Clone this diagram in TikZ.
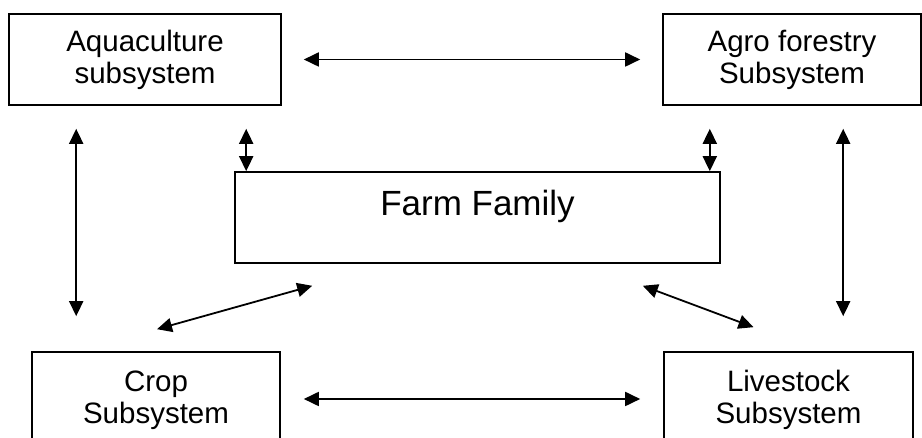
\documentclass[tikz,border=0pt]{standalone}
\usepackage{fontspec}
\setmainfont{Liberation Sans}
\usetikzlibrary{arrows.meta}

\begin{document}
\begin{tikzpicture}[
    x=1pt, y=1pt,
    sub box/.style={draw, line width=1.6pt, inner sep=0pt, align=center,
        font=\fontsize{29.5}{32}\selectfont},
    family box/.style={draw, line width=1.6pt, inner sep=0pt, align=center,
        font=\fontsize{35}{40}\selectfont, text height=44pt, text depth=47pt},
    link/.style={{Triangle[length=15pt,width=14pt]}-{Triangle[length=15pt,width=14pt]},
        line width=1.8pt}
]
    \useasboundingbox (0,0) rectangle (922,438);
    \clip (0,0) rectangle (922,438);

    \node[sub box, minimum width=272pt, minimum height=91pt] (aqua) at (145,378.5) {Aquaculture\\subsystem};
    \node[sub box, minimum width=258pt, minimum height=91pt] (agro) at (792,378.5) {Agro forestry\\Subsystem};
    \node[family box, minimum width=485pt] (family) at (477.5,220.5) {Farm Family};
    \node[sub box, minimum width=248pt, minimum height=96pt] (crop) at (156,38) {Crop\\Subsystem};
    \node[sub box, minimum width=249pt, minimum height=96pt] (live) at (788.5,38) {Livestock\\Subsystem};

    \coordinate (famL) at ([xshift=12pt]family.north west);
    \coordinate (famR) at ([xshift=-11pt]family.north east);
    \coordinate (famBL) at ([shift={(78pt,-22pt)}]family.south west);
    \coordinate (famBR) at ([shift={(-78pt,-22pt)}]family.south east);
    \coordinate (cropTip) at ([shift={(1pt,22pt)}]crop.north);
    \coordinate (liveTip) at ([shift={(-35pt,24pt)}]live.north);

  \draw[link, shorten <=22pt, shorten >=22pt] (aqua.east) -- (agro.east -| agro.west);
  \draw[link, shorten <=23pt, shorten >=23pt] (crop.east |- 0,39) -- (live.west |- 0,39);
  \draw[link, shorten <=23pt, shorten >=35pt] ([xshift=68pt]aqua.south west) -- ([xshift=45pt]crop.north west);
  \draw[link, shorten <=23pt, shorten >=35pt] ([xshift=181pt]agro.south west) -- ([xshift=180pt]live.north west);
  \draw[link, shorten <=23pt] (famL |- aqua.south) -- (famL);
  \draw[link, shorten <=23pt] (famR |- agro.south) -- (famR);
  \draw[link] (cropTip) -- (famBL);
  \draw[link] (famBR) -- (liveTip);
\end{tikzpicture}
\end{document}
